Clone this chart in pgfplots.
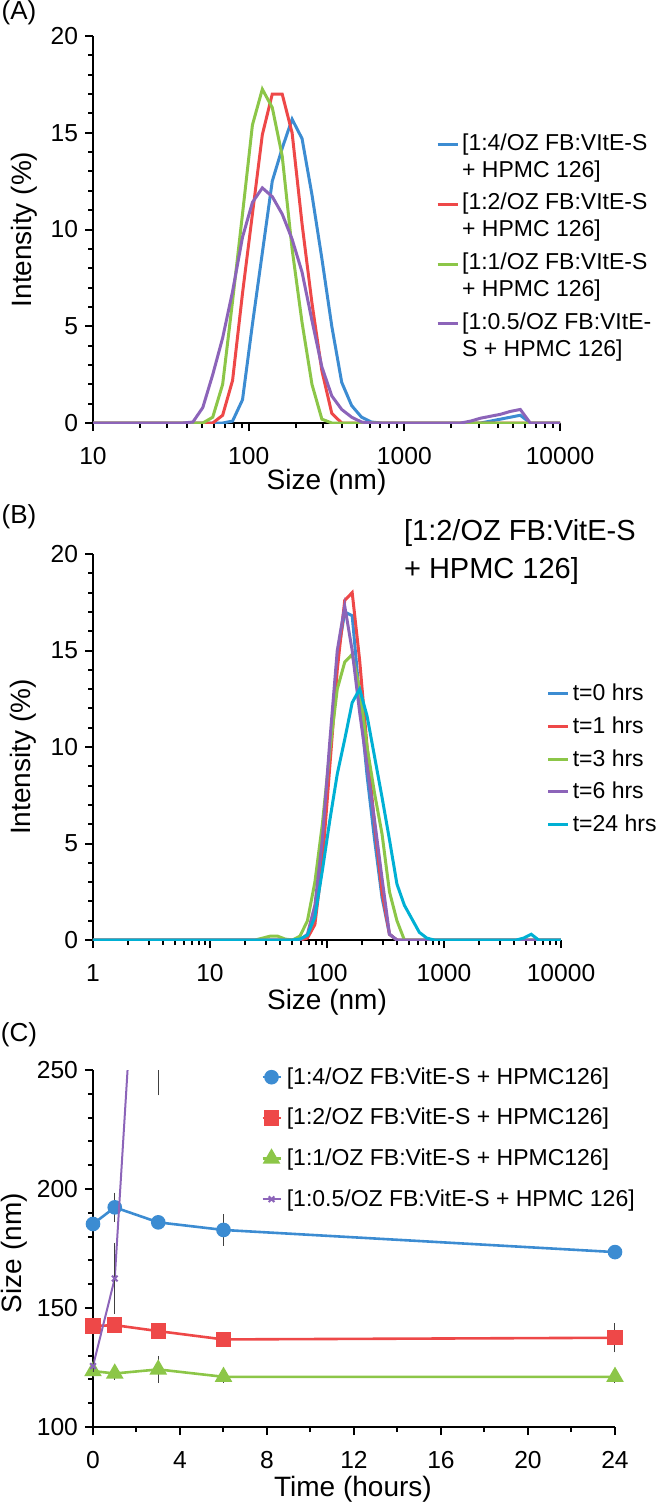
\documentclass[border=0pt]{standalone}
\usepackage{fontspec}
\setmainfont{Liberation Sans}
\usepackage{pgfplots}
\pgfplotsset{compat=1.18}
\definecolor{cblue}{RGB}{60,140,210}
\definecolor{cred}{RGB}{238,72,72}
\definecolor{cgreen}{RGB}{140,198,72}
\definecolor{cpurple}{RGB}{140,100,185}
\definecolor{ccyan}{RGB}{0,176,212}
\pgfplotsset{
 myaxis/.style={
  scale only axis,
  anchor=south west,
  axis x line*=bottom, axis y line*=left,
  xtick pos=left, ytick pos=left,
  axis line style={-, line width=1.2pt, black},
  tick align=outside,
  major tick length=4pt, minor tick length=2.5pt,
  every tick/.style={black, line width=1pt},
  tick label style={font=\fontsize{12.3}{14}\selectfont},
  xticklabel style={yshift=-4.5pt},
  label style={font=\fontsize{14}{16}\selectfont},
  /pgf/number format/assume math mode=true,
  legend style={draw=none, fill=none, font=\fontsize{11.5}{13.5}\selectfont, cells={align=left}},
  legend cell align=left,
 },
 dlsaxis/.style={
  myaxis, ymin=0, ymax=20, ytick={0,5,10,15,20}, minor y tick num=4,
  every axis plot/.append style={line width=1.5pt},
  legend image code/.code={\draw[##1, line width=1.5pt] (0pt,0pt) -- (10pt,0pt);},
  xlabel={Size (nm)}, ylabel={Intensity (\%)},
 }
}
\begin{document}
\begin{tikzpicture}
\useasboundingbox (0,0) rectangle (328pt,-756pt);
% ---------------- (A)
\begin{semilogxaxis}[dlsaxis, at={(46.5pt,-211.5pt)}, width=233.5pt, height=193.5pt,
  xmin=10, xmax=10000, xtick={10,100,1000,10000}, xticklabels={10,100,1000,10000},
  minor xtick={20,30,40,50,60,70,80,90,200,300,400,500,600,700,800,900,2000,3000,4000,5000,6000,7000,8000,9000},
  xlabel style={at={(axis description cs:0.5,-0.152)}, anchor=center},
  ylabel style={at={(axis description cs:-0.148,0.5)}, anchor=center},
  legend image code/.code={\draw[#1, line width=1.5pt] (0pt,6pt) -- (10pt,6pt); \path (0pt,-6pt);},
  legend style={at={(axis description cs:0.721,0.77)}, anchor=north west, row sep=2.5pt, nodes={inner xsep=1.5pt}}]
\addplot[cblue] coordinates {(10,0) (68.06,0) (78.82,0.1) (91.28,1.2) (105.7,5.1) (122.4,8.8) (141.8,12.5) (164.2,14.2) (190.1,15.7) (220.2,14.7) (255,11.8) (295.3,8.5) (342,5.0) (396.1,2.1) (458.7,0.9) (531.2,0.3) (615.1,0.05) (712.4,0) (3091,0) (3580,0.1) (4145,0.2) (4801,0.3) (5560,0.4) (6439,0) (10000,0)};
\addlegendentry{[1:4/OZ FB:VItE-S\\+ HPMC 126]}
\addplot[cred] coordinates {(10,0) (58.77,0) (68.06,0.4) (78.82,2.2) (91.28,6.7) (105.7,10.8) (122.4,14.9) (141.8,17.0) (164.2,17.0) (190.1,15.0) (220.2,10.3) (255,6.2) (295.3,2.7) (342,0.5) (396.1,0) (10000,0)};
\addlegendentry{[1:2/OZ FB:VItE-S\\+ HPMC 126]}
\addplot[cgreen] coordinates {(10,0) (50.75,0) (58.77,0.3) (68.06,2.0) (78.82,6.3) (91.28,10.8) (105.7,15.4) (122.4,17.25) (141.8,16.3) (164.2,13.8) (190.1,9.0) (220.2,5.2) (255,2.0) (295.3,0.2) (342,0) (10000,0)};
\addlegendentry{[1:1/OZ FB:VItE-S\\+ HPMC 126]}
\addplot[cpurple] coordinates {(10,0) (37.84,0) (43.82,0.05) (50.75,0.8) (58.77,2.5) (68.06,4.4) (78.82,6.8) (91.28,9.6) (105.7,11.4) (122.4,12.15) (141.8,11.7) (164.2,10.8) (190.1,9.5) (220.2,7.8) (255,5.3) (295.3,2.9) (342,1.4) (396.1,0.7) (458.7,0.3) (531.2,0.05) (615.1,0) (2305,0) (2669,0.1) (3091,0.25) (3580,0.35) (4145,0.45) (4801,0.6) (5560,0.7) (6439,0) (10000,0)};
\addlegendentry{[1:0.5/OZ FB:VItE-\\S + HPMC 126]}
\end{semilogxaxis}
% ---------------- (B)
\begin{semilogxaxis}[dlsaxis, at={(46.5pt,-470pt)}, width=234pt, height=193pt,
  xmin=1, xmax=10000, xtick={1,10,100,1000,10000}, xticklabels={1,10,100,1000,10000},
  minor xtick={2,3,4,5,6,7,8,9,20,30,40,50,60,70,80,90,200,300,400,500,600,700,800,900,2000,3000,4000,5000,6000,7000,8000,9000},
  xlabel style={at={(axis description cs:0.5,-0.16)}, anchor=center},
  ylabel style={at={(axis description cs:-0.148,0.474)}, anchor=center},
  legend style={at={(axis description cs:0.956,0.685)}, anchor=north west, row sep=2.5pt, nodes={inner xsep=1.5pt}}]
\addplot[cblue] coordinates {(1,0) (58.77,0) (68.06,0.2) (78.82,1.5) (91.28,4.8) (105.7,9.8) (122.4,14.6) (141.8,17.0) (164.2,16.8) (190.1,12.5) (220.2,8.5) (255,5.2) (295.3,2.2) (342,0.3) (396.1,0) (10000,0)};
\addlegendentry{t=0 hrs}
\addplot[cred] coordinates {(1,0) (58.77,0) (68.06,0.1) (78.82,0.8) (91.28,4.0) (105.7,9.0) (122.4,14.0) (141.8,17.6) (164.2,18.0) (190.1,14.5) (220.2,10.0) (255,6.0) (295.3,2.5) (342,0.3) (396.1,0) (10000,0)};
\addlegendentry{t=1 hrs}
\addplot[cgreen] coordinates {(1,0) (24.36,0) (28.21,0.1) (32.67,0.2) (37.84,0.2) (43.82,0.05) (50.75,0) (58.77,0.2) (68.06,1.0) (78.82,3.0) (91.28,6.0) (105.7,9.8) (122.4,13.0) (141.8,14.4) (164.2,14.8) (190.1,13.0) (220.2,10.0) (255,7.6) (295.3,5.5) (342,2.5) (396.1,1.0) (458.7,0) (10000,0)};
\addlegendentry{t=3 hrs}
\addplot[cpurple] coordinates {(1,0) (58.77,0) (68.06,0.3) (78.82,1.8) (91.28,5.2) (105.7,10.3) (122.4,15.0) (141.8,17.3) (164.2,15.0) (190.1,11.8) (220.2,9.0) (255,6.2) (295.3,3.2) (342,0.3) (396.1,0) (10000,0)};
\addlegendentry{t=6 hrs}
\addplot[ccyan] coordinates {(1,0) (50.75,0) (58.77,0.05) (68.06,0.25) (78.82,1.2) (91.28,3.6) (105.7,6.2) (122.4,8.6) (141.8,10.4) (164.2,12.3) (190.1,13.0) (220.2,11.6) (255,9.5) (295.3,7.4) (342,5.2) (396.1,2.9) (458.7,1.8) (531.2,1.1) (615.1,0.4) (712.4,0.1) (825,0) (4145,0) (4801,0.1) (5560,0.3) (6439,0) (10000,0)};
\addlegendentry{t=24 hrs}
\end{semilogxaxis}
% ---------------- (C)
\begin{axis}[myaxis, at={(46.5pt,-713.5pt)}, width=261pt, height=178.5pt,
  xmin=0, xmax=24, ymin=100, ymax=250, xtick={0,4,...,24}, minor x tick num=1,
  ytick={100,150,200,250}, minor y tick num=4, clip mode=individual,
  xlabel={Time (hours)}, ylabel={Size (nm)},
  xlabel style={at={(axis description cs:0.498,-0.175)}, anchor=center},
  ylabel style={at={(axis description cs:-0.151,0.487)}, anchor=center},
  legend style={at={(axis description cs:0.31,1.031)}, anchor=north west, row sep=6.5pt, nodes={inner xsep=2.5pt}},
  legend image code/.code={\draw[mark repeat=2,mark phase=2,#1] plot coordinates {(0pt,0pt) (4.5pt,0pt) (9pt,0pt)};},
  error bars/y dir=both, error bars/y explicit,
  error bars/error bar style={black!75, line width=0.6pt},
  error bars/error mark options={black!75, mark size=2pt, line width=0.6pt}]
\addplot[cblue, line width=1.3pt, mark=*, mark size=3pt, mark options={fill=cblue}] coordinates {(0,185.3) +- (0,1) (1,192.3) +- (0,4.5) (3,186) +- (0,1) (6,182.8) +- (0,4.9) (24,173.5) +- (0,1)};
\addlegendentry{[1:4/OZ FB:VitE-S + HPMC126]}
\addplot[cred, line width=1.3pt, mark=square*, mark size=3.2pt, mark options={fill=cred}] coordinates {(0,142.4) +- (0,1) (1,142.8) +- (0,1.5) (3,140.3) +- (0,1.5) (6,136.8) +- (0,1) (24,137.5) +- (0,4.5)};
\addlegendentry{[1:2/OZ FB:VitE-S + HPMC126]}
\addplot[cgreen, line width=1.3pt, mark=triangle*, mark size=3.8pt, mark options={fill=cgreen}] coordinates {(0,123.5) +- (0,1) (1,122.5) +- (0,1) (3,124.2) +- (0,4) (6,121.1) +- (0,1) (24,121.1) +- (0,1)};
\addlegendentry{[1:1/OZ FB:VitE-S + HPMC126]}
\addplot[cpurple, line width=1pt, mark=x, mark size=2pt] coordinates {(0,125.6) +- (0,1) (1,162.4) +- (0,13.3) (3,460) +- (0,219)};
\addlegendentry{[1:0.5/OZ FB:VitE-S + HPMC 126]}
\end{axis}
\node[font=\fontsize{13}{15}\selectfont] at (9.5pt,-6.5pt) {(A)};
\node[font=\fontsize{13}{15}\selectfont] at (9.5pt,-258.5pt) {(B)};
\node[font=\fontsize{13}{15}\selectfont] at (9.5pt,-517.5pt) {(C)};
\node[anchor=west, font=\fontsize{14.5}{17}\selectfont] at (198.5pt,-266.5pt) {[1:2/OZ FB:VitE-S};
\node[anchor=west, font=\fontsize{14.5}{17}\selectfont] at (198.5pt,-285.5pt) {+ HPMC 126]};
\end{tikzpicture}
\end{document}
